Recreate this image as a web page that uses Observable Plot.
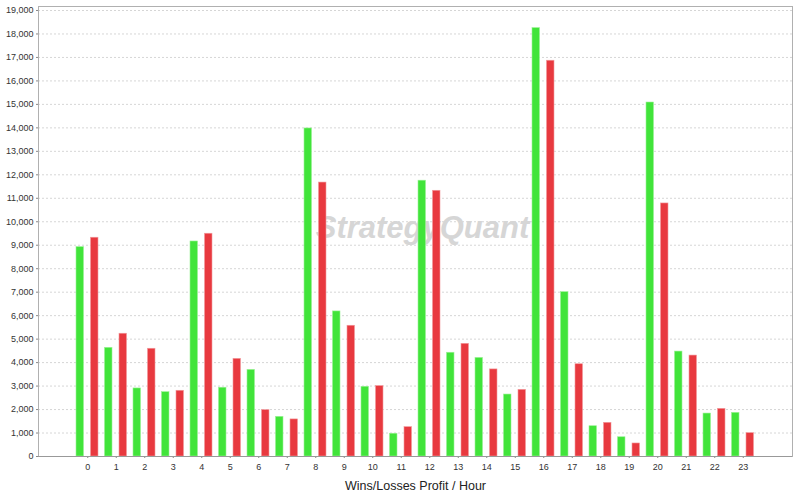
<!DOCTYPE html>
<html>
<head>
<meta charset="utf-8">
<script src="https://cdn.jsdelivr.net/npm/d3@7"></script>
<script src="https://cdn.jsdelivr.net/npm/@observablehq/plot@0.6"></script>
<style>
  html, body { margin: 0; padding: 0; background: #fff; }
  #chart svg { display: block; font-family: "Liberation Sans", Arial, sans-serif; }
  #chart g[aria-label="x-axis label"] text { font-size: 12.5px; fill: #222; }
</style>
</head>
<body>
<div id="chart"></div>
<script>
const hours = [0,1,2,3,4,5,6,7,8,9,10,11,12,13,14,15,16,17,18,19,20,21,22,23];
const wins =   [8920,4630,2900,2740,9160,2930,3690,1690,13975,6180,2970,970,11750,4420,4200,2640,18250,7000,1290,820,15080,4470,1830,1860];
const losses = [9320,5230,4590,2800,9490,4160,1975,1580,11670,5570,3000,1250,11320,4800,3710,2840,16860,3930,1435,555,10780,4300,2030,995];
const seriesNames = ["Wins", "Losses"];
const seriesColors = ["#41e43a", "#e8393f"];
const yTicks = d3.range(0, 19001, 1000);
const watermark = "StrategyQuant";
const xTitle = "Wins/Losses Profit / Hour";

const winData = hours.map((h, i) => ({hour: h, value: wins[i], series: seriesNames[0]}));
const lossData = hours.map((h, i) => ({hour: h, value: losses[i], series: seriesNames[1]}));

const chart = Plot.plot({
  width: 800,
  height: 500,
  marginLeft: 38,
  marginRight: 8,
  marginTop: 6,
  marginBottom: 44,
  style: {fontFamily: "Liberation Sans, Arial, sans-serif", fontSize: "9px", color: "#333", background: "#fff"},
  x: {type: "band", domain: hours, padding: 0, round: false, insetLeft: 35, insetRight: 35, label: null},
  y: {domain: [0, 19170], label: null},
  color: {domain: seriesNames, range: seriesColors},
  marks: [
    Plot.gridY(yTicks, {stroke: "#d6d6d6", strokeOpacity: 1, strokeDasharray: "2,2"}),
    Plot.text([watermark], {frameAnchor: "middle", text: d => d, fontSize: 31, fontWeight: "bold", fontStyle: "italic", fill: "#d6d6d6", dx: 7, dy: -3}),
    Plot.barY(winData, {x: "hour", y: "value", fill: "series", stroke: "#9cf296", strokeWidth: 0.6, insetLeft: 3, insetRight: 18}),
    Plot.barY(lossData, {x: "hour", y: "value", fill: "series", stroke: "#f29a9d", strokeWidth: 0.6, insetLeft: 17.5, insetRight: 3.5}),
    Plot.frame({stroke: "#b0b0b0"}),
    Plot.axisY(yTicks, {tickFormat: d3.format(","), tickSize: 2, tickPadding: 3, stroke: "#888", label: null, fontSize: 9}),
    Plot.axisX({tickSize: 2, tickPadding: 5, stroke: "#888", label: xTitle, labelAnchor: "center", labelOffset: 33, fontSize: 9}),
    Plot.ruleY([0], {stroke: "#999"})
  ]
});
document.getElementById("chart").appendChild(chart);
</script>
</body>
</html>
